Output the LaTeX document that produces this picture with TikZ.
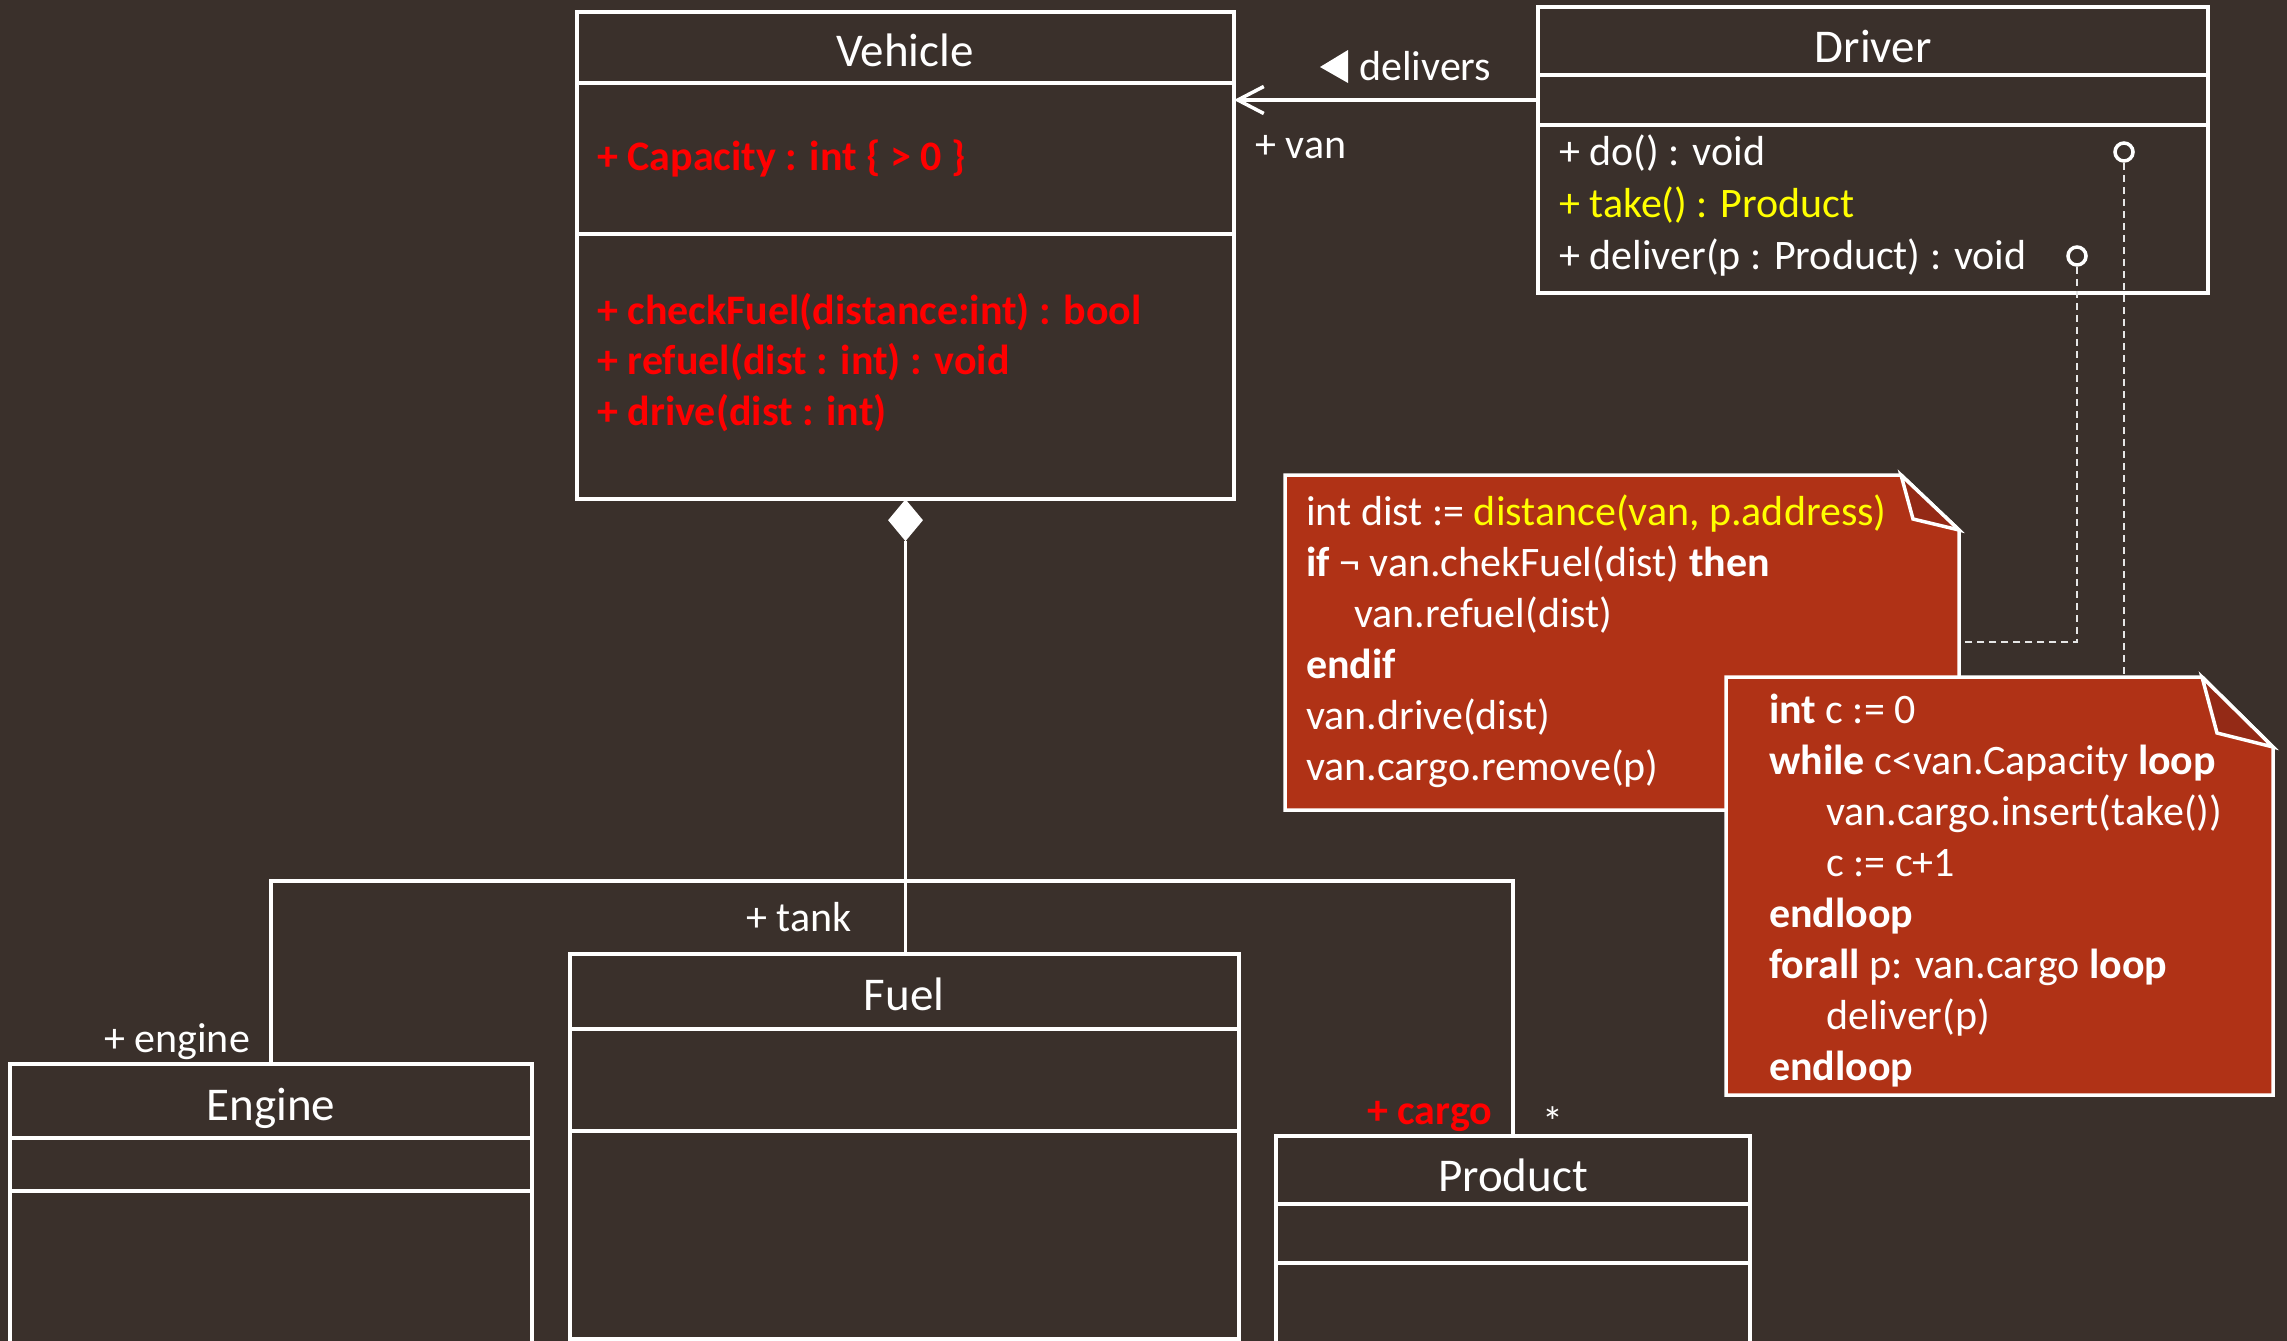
\documentclass[tikz,border=0pt]{standalone}
\usepackage{fontspec}
\setmainfont{Carlito}
\usetikzlibrary{arrows.meta,shapes.geometric}

\definecolor{bgbrown}{HTML}{3A302B}
\definecolor{notered}{HTML}{B03216}
\definecolor{folddark}{HTML}{942A16}
\definecolor{hotred}{HTML}{FF0000}
\definecolor{hiyellow}{HTML}{FFFF00}
\definecolor{dashgrey}{HTML}{E6E6E6}

\tikzset{
  umlbox/.style={draw=white, line width=3.5pt, rectangle, anchor=north west,
                 inner sep=0pt, outer sep=0pt},
  umlline/.style={draw=white, line width=3.5pt},
  link/.style={draw=white, line width=3.5pt},
  dashlink/.style={draw=dashgrey, line width=1.5pt, dash pattern=on 7pt off 5pt},
  classtitle/.style={text=white, font=\fontsize{47}{56}\selectfont, anchor=base, inner sep=0pt},
  member/.style={text=white, font=\fontsize{42}{51}\selectfont, anchor=base west, inner sep=0pt},
  redmember/.style={member, text=hotred, font=\fontsize{42}{51}\selectfont\bfseries},
  notetext/.style={member},
  noteshape/.style={fill=notered, draw=white, line width=3.5pt, line join=miter},
  foldshape/.style={fill=folddark, draw=white, line width=3.5pt, line join=miter},
  port/.style={circle, draw=white, line width=3.5pt, minimum size=18pt, inner sep=0pt},
}

\begin{document}
\begin{tikzpicture}[x=1pt,y=-1pt]
\path[use as bounding box, fill=bgbrown] (0,0) rectangle (2287,1341);
\clip (0,0) rectangle (2287,1341);

% ---------- classes ----------
\node[umlbox, minimum width=657pt, minimum height=487pt] (vehicle) at (577,12) {};
\draw[umlline] (vehicle.west |- 0,83) -- (vehicle.east |- 0,83);
\draw[umlline] (vehicle.west |- 0,234) -- (vehicle.east |- 0,234);
\node[classtitle] (vtitle) at (905,66) {Vehicle};
\node[redmember] (vcap) at (597,170) {+ Capacity : int \{ > 0 \}};
\node[redmember] (vcheck) at (597,324) {+ checkFuel(distance:int) : bool};
\node[redmember] (vrefuel) at (597,374) {+ refuel(dist : int) : void};
\node[redmember] (vdrive) at (597,425) {+ drive(dist : int)};

\node[umlbox, minimum width=670pt, minimum height=286pt] (driver) at (1538,7) {};
\draw[umlline] (driver.west |- 0,75) -- (driver.east |- 0,75);
\draw[umlline] (driver.west |- 0,125) -- (driver.east |- 0,125);
\node[classtitle] (dtitle) at (1873,62) {Driver};
\node[member] (ddo) at (1559,165) {+ do() : void};
\node[member, text=hiyellow] (dtake) at (1559,217) {+ take() : Product};
\node[member] (ddeliver) at (1559,269) {+ deliver(p : Product) : void};
\node[port] (docirc) at (2124,152) {};
\node[port] (delcirc) at (2077,256) {};

\node[umlbox, minimum width=522pt, minimum height=340pt] (engine) at (10,1064) {};
\draw[umlline] (engine.west |- 0,1138) -- (engine.east |- 0,1138);
\draw[umlline] (engine.west |- 0,1191) -- (engine.east |- 0,1191);
\node[classtitle] (etitle) at (271,1120) {Engine};

\node[umlbox, minimum width=669pt, minimum height=385pt] (fuel) at (570,954) {};
\draw[umlline] (fuel.west |- 0,1029) -- (fuel.east |- 0,1029);
\draw[umlline] (fuel.west |- 0,1131) -- (fuel.east |- 0,1131);
\node[classtitle] (ftitle) at (904,1010) {Fuel};

\node[umlbox, minimum width=474pt, minimum height=260pt] (product) at (1276,1136) {};
\draw[umlline] (product.west |- 0,1204) -- (product.east |- 0,1204);
\draw[umlline] (product.west |- 0,1263) -- (product.east |- 0,1263);
\node[classtitle] (ptitle) at (1513,1191) {Product};

% ---------- association Driver -> Vehicle ----------
\draw[link, -{Straight Barb[length=26pt, width=27pt, line width=3.5pt]}]
  (driver.west |- 0,100) -- (vehicle.east |- 0,100);
\fill[white] (1320,67) -- (1348,50) -- (1348,83) -- cycle;
\node[member] (delivers) at (1359,80) {delivers};
\node[member] (vanrole) at (1255,158) {+ van};

% ---------- composition ----------
\node[diamond, fill=white, minimum width=35pt, minimum height=42pt, inner sep=0pt,
      anchor=north] (comp) at (vehicle.south) {};
\coordinate (junction) at (904,881);
\draw[link] (comp.south) -- (comp.south |- fuel.north);
\draw[link] (engine.north) |- (junction);
\draw[link] (product.north) |- (junction);
\node[member] (tankrole) at (746,931) {+ tank};
\node[member] (enginerole) at (104,1052) {+ engine};
\node[redmember] (cargorole) at (1367,1124) {+ cargo};
\node[member] (cargomult) at (1542,1136) {*};

% ---------- notes ----------
\node[inner sep=0pt, minimum width=674pt, minimum height=335pt, anchor=north west] (note1) at (1285,475) {};
\node[inner sep=0pt, minimum width=547pt, minimum height=418pt, anchor=north west] (note2) at (1726,677) {};

\draw[dashlink] (docirc.south) -- (docirc |- note2.north);
\draw[dashlink] (delcirc.south) |- (note1.east |- 0,642);

\path[noteshape] (1285,475) -- (1901,475) -- (1959,530) -- (1959,810) -- (1285,810) -- cycle;
\path[foldshape] (1901,475) -- (1913,519) -- (1959,530) -- cycle;
\node[notetext] (n1a) at (1306,525) {int dist := \textcolor{hiyellow}{distance(van, p.address)}};
\node[notetext] (n1b) at (1306,576) {\textbf{if} ¬ van.chekFuel(dist) \textbf{then}};
\node[notetext] (n1c) at (1354,627) {van.refuel(dist)};
\node[notetext] (n1d) at (1306,678) {\textbf{endif}};
\node[notetext] (n1e) at (1306,729) {van.drive(dist)};
\node[notetext] (n1f) at (1306,780) {van.cargo.remove(p)};

\path[noteshape] (1726,677) -- (2202,677) -- (2273,747) -- (2273,1095) -- (1726,1095) -- cycle;
\path[foldshape] (2202,677) -- (2217,733) -- (2273,747) -- cycle;
\node[notetext] (n2a) at (1769,723) {\textbf{int} c := 0};
\node[notetext] (n2b) at (1769,774) {\textbf{while} c<van.Capacity \textbf{loop}};
\node[notetext] (n2c) at (1826,825) {van.cargo.insert(take())};
\node[notetext] (n2d) at (1826,876) {c := c+1};
\node[notetext] (n2e) at (1769,927) {\textbf{endloop}};
\node[notetext] (n2f) at (1769,978) {\textbf{forall} p: van.cargo \textbf{loop}};
\node[notetext] (n2g) at (1826,1029) {deliver(p)};
\node[notetext] (n2h) at (1769,1080) {\textbf{endloop}};
\end{tikzpicture}
\end{document}
